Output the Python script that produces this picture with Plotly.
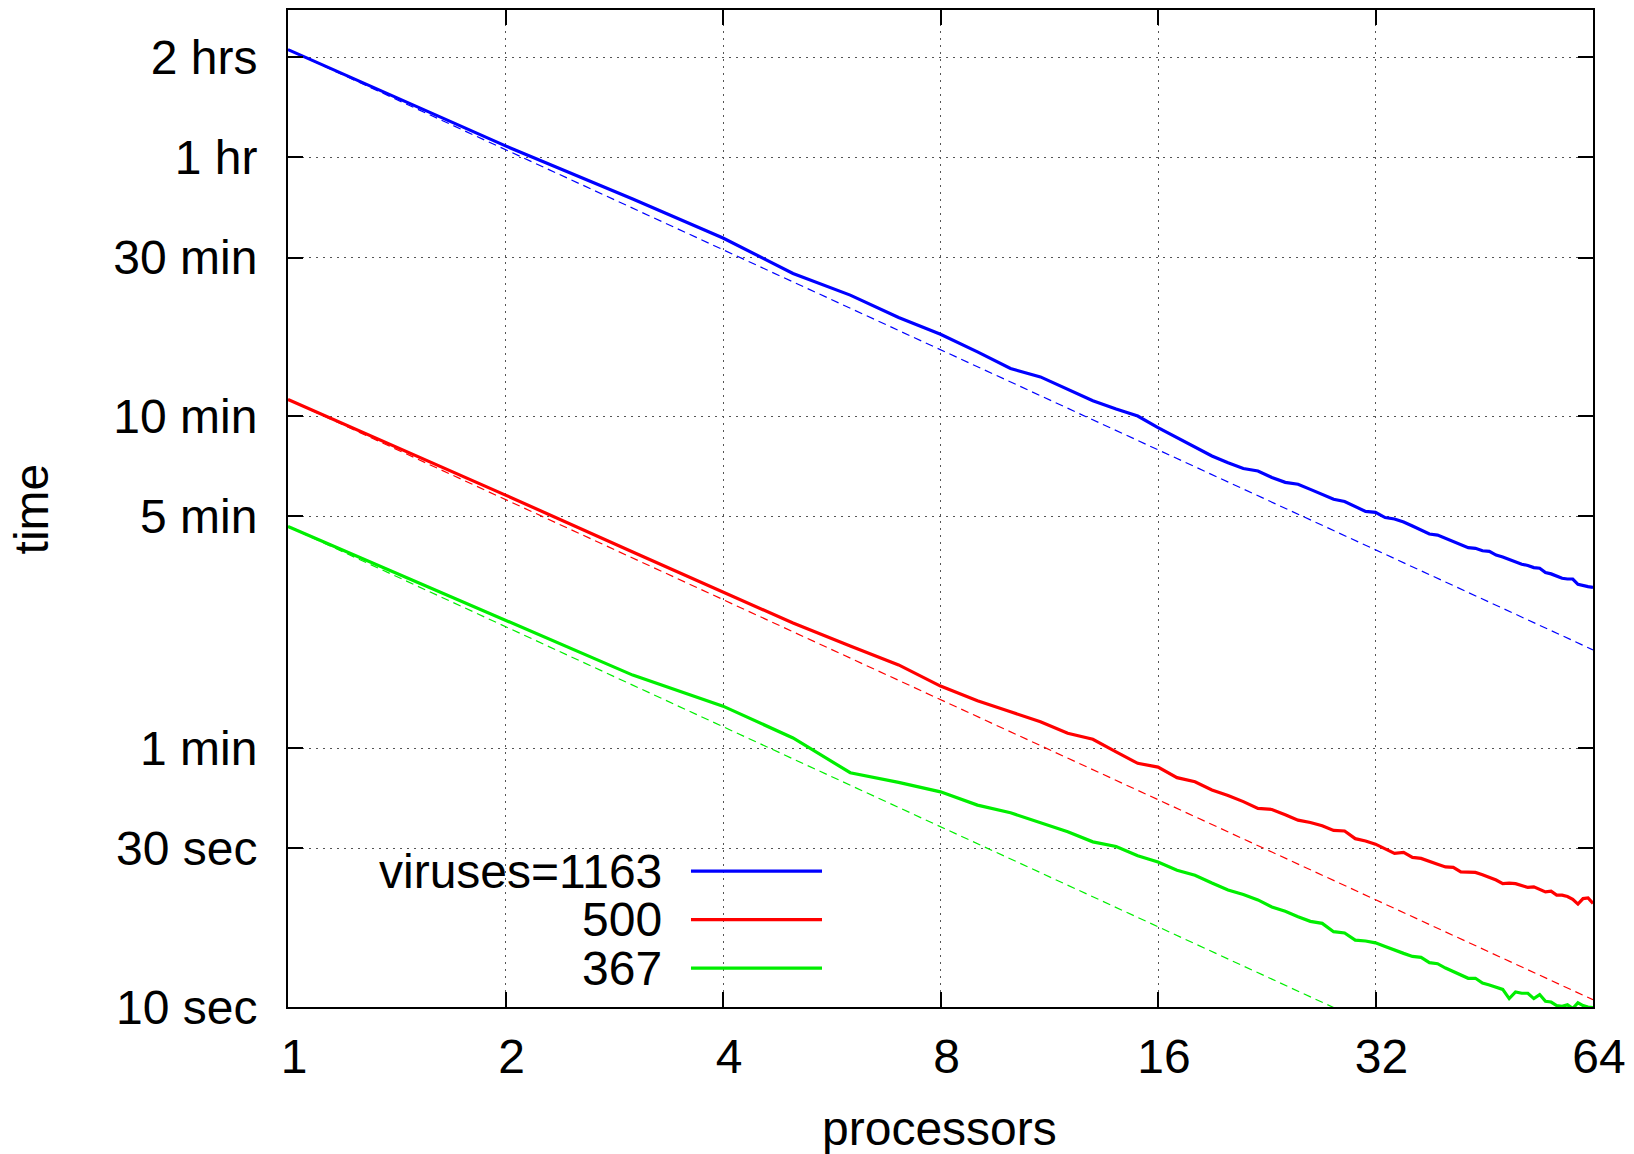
import plotly.graph_objects as go

# Wall-clock time (seconds) versus number of processors, one run per virus count
processors = list(range(1, 65))

time_1163 = [
    7600, 3900, 2700, 2060, 1612, 1387, 1188, 1058, 936, 834,
    787, 722, 667, 630, 600, 554, 517, 485, 455, 434,
    417, 410, 392, 379, 374, 361, 349, 337, 332, 320,
    310, 308, 297, 294, 288, 280, 272, 265, 263, 257,
    251, 245, 241, 240, 236, 235, 229, 226, 222, 218,
    215, 213, 210, 209, 203, 201, 198, 195, 194, 194,
    187, 186, 184, 183,
]

time_500 = [
    673, 347, 234, 177, 143, 122, 107, 92.4, 83.5, 77.3,
    72.2, 66.6, 63.9, 58.6, 54.1, 52.7, 49.0, 47.6, 45.0, 43.3,
    41.5, 39.6, 39.3, 37.9, 36.5, 35.9, 35.1, 34.0, 33.85, 32.1,
    31.6, 30.9, 30.0, 29.0, 29.2, 28.2, 28.0, 27.5, 26.9, 26.4,
    26.3, 25.5, 25.4, 25.4, 25.0, 24.55, 24.1, 23.5, 23.6, 23.5,
    23.2, 22.9, 23.0, 22.6, 22.2, 22.3, 21.7, 21.7, 21.5, 21.1,
    20.4, 21.2, 21.3, 20.5,
]

time_367 = [
    279, 146, 99.7, 80.4, 64.5, 50.7, 47.4, 44.4, 40.5, 38.4,
    35.8, 33.7, 31.4, 30.4, 28.5, 27.3, 25.8, 24.9, 23.6, 22.5,
    21.8, 21.0, 20.0, 19.4, 18.7, 18.1, 17.85, 16.85, 16.7, 15.9,
    15.8, 15.6, 15.2, 14.8, 14.5, 14.2, 14.1, 13.6, 13.5, 13.1,
    12.8, 12.5, 12.2, 12.2, 11.8, 11.65, 11.5, 11.3, 10.6, 11.1,
    11.0, 11.0, 10.6, 10.9, 10.4, 10.35, 10.1, 10.05, 10.15, 9.9,
    10.3, 10.1, 10.0, 9.95,
]

series_labels = ["viruses=1163", "500", "367"]
series_colors = ["#0000ff", "#ff0000", "#00ee00"]
series_times = [time_1163, time_500, time_367]

x_tick_vals = [1, 2, 4, 8, 16, 32, 64]
x_tick_text = ["1", "2", "4", "8", "16", "32", "64"]
y_tick_vals = [10, 30, 60, 300, 600, 1800, 3600, 7200]
y_tick_text = ["10 sec", "30 sec", "1 min", "5 min", "10 min", "30 min", "1 hr", "2 hrs"]

FONT = "Liberation Sans, Arial, sans-serif"
FS = 48

fig = go.Figure()

for label, color, times in zip(series_labels, series_colors, series_times):
    # perfect linear speed-up from the single-processor time
    ideal = [times[0] / p for p in processors]
    fig.add_trace(go.Scatter(
        x=processors, y=ideal, mode="lines", showlegend=False,
        line=dict(color=color, width=1.2, dash="8px,5px"), hoverinfo="skip",
    ))

for label, color, times in zip(series_labels, series_colors, series_times):
    fig.add_trace(go.Scatter(
        x=processors, y=times, mode="lines", name=label, showlegend=False,
        line=dict(color=color, width=3.2),
    ))

axis_common = dict(
    type="log",
    showgrid=True, gridcolor="#555555", gridwidth=1, griddash="2px,5px",
    showline=True, linecolor="black", linewidth=2, mirror="ticks",
    ticks="inside", ticklen=15, tickwidth=2, tickcolor="black",
    tickfont=dict(family=FONT, size=FS, color="black"),
    zeroline=False,
)

fig.update_xaxes(
    **axis_common,
    range=[0, 1.80618],
    tickmode="array", tickvals=x_tick_vals, ticktext=x_tick_text,
    ticklabelstandoff=6, ticklabelshift=6,
)
fig.update_yaxes(
    **axis_common,
    range=[1, 4],
    tickmode="array", tickvals=y_tick_vals, ticktext=y_tick_text,
    ticklabelstandoff=19,
)

# key box: opaque panel covering the grid, text on the left, sample line on the right
fig.add_shape(type="rect", xref="paper", yref="paper",
              x0=0.0184, x1=0.4299, y0=0.0, y1=0.1605,
              fillcolor="white", line=dict(width=0), layer="between")

key_rows_y = [0.1362, 0.0876, 0.0389]
for label, color, ky in zip(series_labels, series_colors, key_rows_y):
    fig.add_annotation(
        x=0.2879, y=ky, xref="paper", yref="paper", text=label,
        xanchor="right", yanchor="middle", showarrow=False,
        font=dict(family=FONT, size=FS, color="black"),
    )
    fig.add_shape(type="line", xref="paper", yref="paper",
                  x0=0.3088, x1=0.4092, y0=ky, y1=ky,
                  line=dict(color=color, width=3.2), layer="above")

fig.add_annotation(
    x=0.4996, y=-0.1214, xref="paper", yref="paper", text="processors",
    xanchor="center", yanchor="middle", showarrow=False,
    font=dict(family=FONT, size=FS, color="black"),
)
fig.add_annotation(
    x=-0.1962, y=0.5, xref="paper", yref="paper", text="time", textangle=-90,
    xanchor="center", yanchor="middle", showarrow=False,
    font=dict(family=FONT, size=FS, color="black"),
)

fig.update_layout(
    width=1634, height=1154,
    margin=dict(l=288, r=41, t=10, b=147, autoexpand=False),
    paper_bgcolor="white", plot_bgcolor="white",
    showlegend=False,
    font=dict(family=FONT, size=FS, color="black"),
)

fig.write_html("out.html")
